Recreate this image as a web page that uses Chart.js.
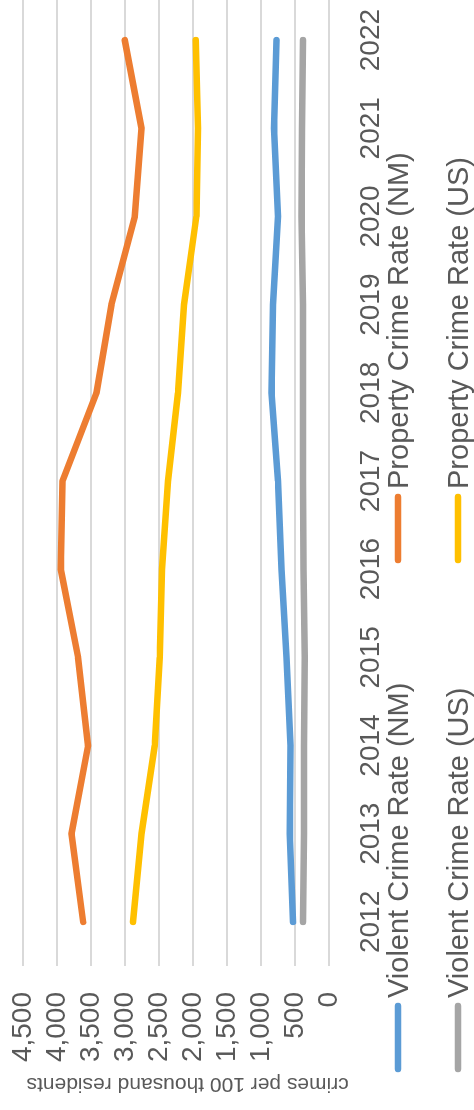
<!DOCTYPE html>
<html lang="en">
<head>
    <meta charset="UTF-8">
    <title>Crime Rates - NM vs US</title>
    <style>
        html, body {
            margin: 0;
            padding: 0;
            background: #ffffff;
            width: 474px;
            height: 1110px;
            overflow: hidden;
        }

        /* chart is laid out landscape, then turned a quarter to the left */
        #wrap {
            position: absolute;
            left: 0;
            top: 0;
            width: 1114px;
            height: 474px;
            transform-origin: 0 0;
            transform: translateY(1110px) rotate(-90deg);
        }
    </style>
</head>
<body>

    <div id="wrap">
        <canvas id="crimeChart" width="1114" height="474"></canvas>
    </div>

    <script src="https://cdn.jsdelivr.net/npm/chart.js@4"></script>
    <script>
        // Data (crimes per 100k residents)
        var years = ['2012', '2013', '2014', '2015', '2016', '2017', '2018', '2019', '2020', '2021', '2022'];
        var violentNM = [529, 578, 567, 626, 700, 750, 847, 823, 750, 808, 773];
        var propertyNM = [3616, 3787, 3543, 3690, 3944, 3919, 3419, 3199, 2856, 2758, 3003];
        var violentUS = [382, 368, 368, 357, 375, 382, 382, 382, 406, 397, 382];
        var propertyUS = [2881, 2758, 2562, 2489, 2455, 2367, 2220, 2131, 1950, 1926, 1960];

        var textColor = '#595959';
        Chart.defaults.font.family = '"Liberation Sans", Arial, sans-serif';

        // Legend in two aligned columns, like the spreadsheet one
        var legendCols = [38, 547];
        var legendRows = [398, 458];
        var gridLegend = {
            id: 'gridLegend',
            afterDraw: function (chart) {
                var ctx = chart.ctx;
                ctx.save();
                ctx.font = '29px "Liberation Sans", Arial, sans-serif';
                ctx.fillStyle = textColor;
                ctx.textBaseline = 'alphabetic';
                chart.data.datasets.forEach(function (ds, i) {
                    var x = legendCols[i % 2];
                    var y = legendRows[Math.floor(i / 2)];
                    ctx.strokeStyle = ds.borderColor;
                    ctx.lineWidth = 6.5;
                    ctx.lineCap = 'round';
                    ctx.beginPath();
                    ctx.moveTo(x + 3, y);
                    ctx.lineTo(x + 66, y);
                    ctx.stroke();
                    ctx.fillText(ds.label, x + 74, y + 10);
                });
                ctx.restore();
            }
        };

        var ctx = document.getElementById('crimeChart').getContext('2d');
        var crimeChart = new Chart(ctx, {
            type: 'line',
            data: {
                labels: years,
                datasets: [
                    { label: 'Violent Crime Rate (NM)', data: violentNM, borderColor: '#5B9BD5' },
                    { label: 'Property Crime Rate (NM)', data: propertyNM, borderColor: '#ED7D31' },
                    { label: 'Violent Crime Rate (US)', data: violentUS, borderColor: '#A5A5A5' },
                    { label: 'Property Crime Rate (US)', data: propertyUS, borderColor: '#FFC000' }
                ]
            },
            options: {
                responsive: false,
                animation: false,
                layout: { padding: { top: 23, left: 0, right: 0, bottom: 0 } },
                plugins: {
                    legend: { display: false },
                    tooltip: { enabled: false }
                },
                elements: {
                    point: { radius: 0 },
                    line: { tension: 0, borderWidth: 6.5, borderJoinStyle: 'round', borderCapStyle: 'round', fill: false }
                },
                scales: {
                    x: {
                        offset: true,
                        grid: { display: false },
                        border: { display: false },
                        ticks: { color: textColor, font: { size: 28 }, maxRotation: 0, autoSkip: false, padding: 17 },
                        afterFit: function (scale) {
                            scale.height = 145;
                            scale.paddingLeft = 0;
                            scale.paddingRight = 0;
                        }
                    },
                    y: {
                        min: 0,
                        max: 4500,
                        grid: { color: '#D9D9D9', lineWidth: 2, drawTicks: false },
                        border: { display: false },
                        ticks: { stepSize: 500, autoSkip: false, color: textColor, font: { size: 28 }, padding: 26 },
                        title: {
                            display: true,
                            // trailing spaces nudge the centred title down a little, as in the original
                            text: 'crimes per 100 thousand residents\u00a0\u00a0\u00a0\u00a0',
                            color: textColor,
                            font: { size: 21 },
                            padding: { top: 14, bottom: 0 }
                        },
                        afterFit: function (scale) {
                            scale.width = 144;
                            scale.paddingTop = 0;
                            scale.paddingBottom = 0;
                        }
                    }
                }
            },
            plugins: [gridLegend]
        });
    </script>
</body>
</html>
